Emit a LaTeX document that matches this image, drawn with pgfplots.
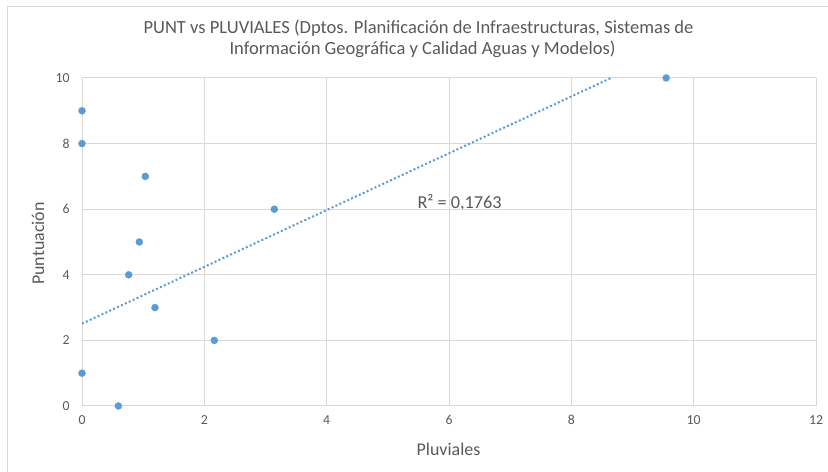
\documentclass[border=0pt]{standalone}
\usepackage{pgfplots}
\pgfplotsset{compat=1.18}
\usepackage{fontspec}
\setmainfont{Carlito}
\definecolor{ptblue}{HTML}{5B9BD5}
\definecolor{gridgray}{HTML}{D9D9D9}
\definecolor{txtgray}{HTML}{595959}
\begin{document}
\begin{tikzpicture}[x=1bp,y=1bp]
\useasboundingbox (0,0) rectangle (828,472);
% chart frame (top and left edges)
\draw[gridgray, line width=1bp] (7,0) -- (7,465) -- (828,465);
% title
\node[anchor=base, txtgray, font=\fontsize{18.6}{21}\selectfont] at (418.5,438)
  {PUNT vs PLUVIALES (Dptos. Planificación de Infraestructuras, Sistemas de};
\node[anchor=base, txtgray, font=\fontsize{18.6}{21}\selectfont] at (422.5,417)
  {Información Geográfica y Calidad Aguas y Modelos)};
% axis titles
\node[rotate=90, txtgray, font=\fontsize{18}{20}\selectfont] at (38,228.5) {Puntuación};
\node[anchor=base, txtgray, font=\fontsize{18}{20}\selectfont] at (448.5,16) {Pluviales};
% fit statistic
\node[anchor=base west, txtgray, font=\fontsize{18.3}{20}\selectfont] at (414,263) {R² = 0,1763};
\begin{axis}[
  at={(82bp,66bp)}, anchor=south west,
  scale only axis, width=734bp, height=328bp,
  xmin=0, xmax=12, ymin=0, ymax=10,
  xtick={0,2,...,12}, ytick={0,2,...,10},
  grid=major,
  major grid style={gridgray, line width=1bp},
  axis line style={gridgray, line width=1bp},
  axis x line*=bottom, axis y line*=left,
  tick style={draw=none},
  ticklabel style={txtgray, font=\fontsize{13.8}{15}\selectfont},
  /pgf/number format/assume math mode=true,
  xticklabel style={yshift=-6bp},
  yticklabel style={xshift=-9bp},
  clip=false,
]
% linear trend line
\addplot[ptblue, line width=2bp, dash pattern=on 2bp off 2.3bp] coordinates {(0,2.51) (8.65,10)};
% observations
\addplot[only marks, mark=*, mark size=3.5bp, mark options={fill=ptblue, draw=ptblue}] coordinates {
  (0,9) (0,8) (0,1) (0.594,0) (0.763,4) (0.937,5) (1.035,7) (1.193,3) (2.163,2) (3.144,6) (9.55,10)
};
\end{axis}
\end{tikzpicture}
\end{document}
